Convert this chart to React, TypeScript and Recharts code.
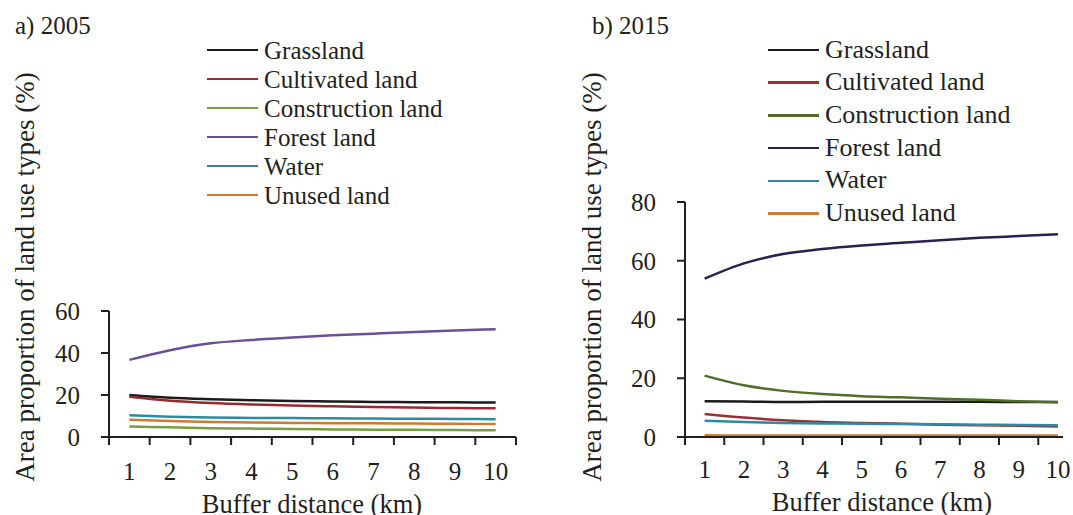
import { LineChart, Line, XAxis, YAxis, Legend } from 'recharts';

const distanceKm = [1, 2, 3, 4, 5, 6, 7, 8, 9, 10];

const landTypes = [
  'Grassland',
  'Cultivated land',
  'Construction land',
  'Forest land',
  'Water',
  'Unused land',
];

// 2005 area proportions (%)
const grassland2005 = [20.0, 18.7, 18.0, 17.5, 17.1, 16.9, 16.7, 16.6, 16.5, 16.4];
const cultivated2005 = [19.2, 17.3, 16.2, 15.5, 15.0, 14.6, 14.3, 14.0, 13.8, 13.7];
const construction2005 = [5.0, 4.6, 4.2, 4.0, 3.8, 3.6, 3.5, 3.4, 3.3, 3.2];
const forest2005 = [36.7, 41.3, 44.6, 46.2, 47.4, 48.4, 49.2, 50.0, 50.7, 51.3];
const water2005 = [10.3, 9.7, 9.3, 9.1, 9.0, 8.9, 8.8, 8.7, 8.6, 8.5];
const unused2005 = [8.2, 7.6, 7.1, 6.9, 6.7, 6.6, 6.5, 6.4, 6.3, 6.2];

// 2015 area proportions (%)
const grassland2015 = [12.2, 12.1, 11.9, 12.0, 12.0, 12.0, 12.0, 12.0, 11.9, 11.9];
const cultivated2015 = [7.8, 6.6, 5.7, 5.1, 4.8, 4.5, 4.2, 4.0, 3.8, 3.6];
const construction2015 = [20.9, 17.6, 15.7, 14.6, 13.9, 13.5, 13.0, 12.7, 12.2, 11.8];
const forest2015 = [53.9, 59.1, 62.3, 64.0, 65.2, 66.1, 67.0, 67.8, 68.4, 69.0];
const water2015 = [5.5, 5.1, 4.8, 4.6, 4.5, 4.4, 4.3, 4.2, 4.1, 4.0];
const unused2015 = [0.6, 0.5, 0.5, 0.5, 0.5, 0.5, 0.5, 0.5, 0.5, 0.5];

const yTicks2005 = [0, 20, 40, 60];
const yTicks2015 = [0, 20, 40, 60, 80];

const colors2005 = ['#1b1b1b', '#982a2f', '#76a040', '#6b4f98', '#2b8ba0', '#cf7a32'];
const colors2015 = ['#1b1b1b', '#9a2f36', '#4f6e2b', '#2c1f4f', '#2b8ba0', '#cf7a32'];

const series2005 = [grassland2005, cultivated2005, construction2005, forest2005, water2005, unused2005];
const series2015 = [grassland2015, cultivated2015, construction2015, forest2015, water2015, unused2015];

const FONT = '"Liberation Serif", "Times New Roman", serif';
const INK = '#231f20';
const KEYS = ['s0', 's1', 's2', 's3', 's4', 's5'];

function buildRows(series: number[][]) {
  return distanceKm.map((km, i) => {
    const row: Record<string, number> = { km };
    series.forEach((s, j) => {
      row[KEYS[j]] = s[i];
    });
    return row;
  });
}

interface PanelProps {
  title: string;
  series: number[][];
  colors: string[];
  yTicks: number[];
  left: number;
  width: number;
  plotTop: number;
  yAxisWidth: number;
  rightMargin: number;
  xMax: number;
  boundaryTicks: number[];
  labelMargin: number;
  legendLeft: number;
  legendTop: number;
  legendRow: number;
  legendFont: number;
  titleLeft: number;
  yTitleX: number;
  xTitleX: number;
  xTitleTop: number;
}

function LegendBox({ payload, row, font }: { payload?: any[]; row: number; font: number }) {
  // keep the legend in series order rather than alphabetical
  const items = [...(payload ?? [])].sort(
    (a, b) => KEYS.indexOf(String(a.dataKey)) - KEYS.indexOf(String(b.dataKey)),
  );
  return (
    <div style={{ fontFamily: FONT, fontSize: font, color: INK }}>
      {items.map((p) => (
        <div key={p.value} style={{ height: row, lineHeight: `${row}px`, display: 'flex', alignItems: 'center', whiteSpace: 'nowrap' }}>
          <span style={{ display: 'inline-block', width: 51, height: 2.5, background: p.color, marginRight: 6 }} />
          <span>{p.value}</span>
        </div>
      ))}
    </div>
  );
}

function yTicksMax(ticks: number[]) {
  return ticks[ticks.length - 1];
}

function Panel(p: PanelProps) {
  const rows = buildRows(p.series);
  const tickFont = { fontFamily: FONT, fontSize: 25, fill: INK };
  const axisStroke = { stroke: INK, strokeWidth: 2 };
  return (
    <div style={{ position: 'absolute', left: p.left, top: 0, width: p.width, height: 515 }}>
      <div style={{ position: 'absolute', left: p.titleLeft, top: 13, fontFamily: FONT, fontSize: 25, lineHeight: 1, color: INK, whiteSpace: 'nowrap' }}>
        {p.title}
      </div>
      <div
        style={{
          position: 'absolute',
          left: p.yTitleX - 230,
          top: 277 - 15,
          width: 460,
          height: 30,
          lineHeight: '30px',
          textAlign: 'center',
          fontFamily: FONT,
          fontSize: 27,
          color: INK,
          transform: 'rotate(-90deg)',
          whiteSpace: 'nowrap',
        }}
      >
        Area proportion of land use types (%)
      </div>
      <div
        style={{
          position: 'absolute',
          left: p.xTitleX - 200,
          top: p.xTitleTop,
          width: 400,
          textAlign: 'center',
          fontFamily: FONT,
          fontSize: 26.5,
          lineHeight: 1,
          color: INK,
          whiteSpace: 'nowrap',
        }}
      >
        Buffer distance (km)
      </div>
      <LineChart
        width={p.width}
        height={515}
        data={rows}
        margin={{ top: p.plotTop, right: p.rightMargin, bottom: 30, left: 0 }}
        style={{ position: 'absolute', left: 0, top: 0, overflow: 'visible' }}
      >
        {/* tick marks sit on the category boundaries */}
        <XAxis
          xAxisId="a"
          dataKey="km"
          type="number"
          domain={[0.5, p.xMax]}
          allowDataOverflow
          ticks={p.boundaryTicks}
          interval={0}
          tickFormatter={() => ''}
          tickSize={8}
          height={8}
          axisLine={axisStroke}
          tickLine={axisStroke}
        />
        {/* labels sit on the category centres */}
        <XAxis
          xAxisId="b"
          dataKey="km"
          type="number"
          domain={[0.5, p.xMax]}
          allowDataOverflow
          ticks={distanceKm}
          interval={0}
          tickSize={0}
          tickMargin={p.labelMargin}
          height={40}
          axisLine={false}
          tickLine={false}
          tick={tickFont}
        />
        <YAxis
          domain={[0, yTicksMax(p.yTicks)]}
          ticks={p.yTicks}
          interval={0}
          width={p.yAxisWidth}
          tickSize={8}
          tickMargin={21}
          axisLine={axisStroke}
          tickLine={axisStroke}
          tick={tickFont}
        />
        <Legend
          layout="vertical"
          align="center"
          verticalAlign="middle"
          wrapperStyle={{ left: p.legendLeft, top: p.legendTop, width: 320 }}
          content={(props: any) => <LegendBox payload={props.payload} row={p.legendRow} font={p.legendFont} />}
        />
        {KEYS.map((k, j) => (
          <Line
            key={k}
            xAxisId="a"
            type="monotone"
            dataKey={k}
            name={landTypes[j]}
            stroke={p.colors[j]}
            strokeWidth={2.5}
            dot={false}
            isAnimationActive={false}
          />
        ))}
      </LineChart>
    </div>
  );
}

export default function App() {
  return (
    <div style={{ position: 'absolute', left: 0, top: 0, width: 1073, height: 515, background: '#fff', overflow: 'hidden' }}>
      <Panel
        title="a) 2005"
        series={series2005}
        colors={colors2005}
        yTicks={yTicks2005}
        left={0}
        width={540}
        plotTop={311}
        yAxisWidth={109}
        rightMargin={24}
        xMax={10.5}
        boundaryTicks={[0.5, 1.5, 2.5, 3.5, 4.5, 5.5, 6.5, 7.5, 8.5, 9.5, 10.5]}
        labelMargin={17}
        legendLeft={207}
        legendTop={35.5}
        legendRow={29}
        legendFont={25}
        titleLeft={15}
        yTitleX={25}
        xTitleX={312}
        xTitleTop={491}
      />
      <Panel
        title="b) 2015"
        series={series2015}
        colors={colors2015}
        yTicks={yTicks2015}
        left={540}
        width={533}
        plotTop={202}
        yAxisWidth={145}
        rightMargin={10}
        xMax={10.13}
        boundaryTicks={[0.5, 1.5, 2.5, 3.5, 4.5, 5.5, 6.5, 7.5, 8.5, 9.5]}
        labelMargin={15}
        legendLeft={228}
        legendTop={33.7}
        legendRow={32.7}
        legendFont={26}
        titleLeft={52}
        yTitleX={52}
        xTitleX={342}
        xTitleTop={489}
      />
    </div>
  );
}
